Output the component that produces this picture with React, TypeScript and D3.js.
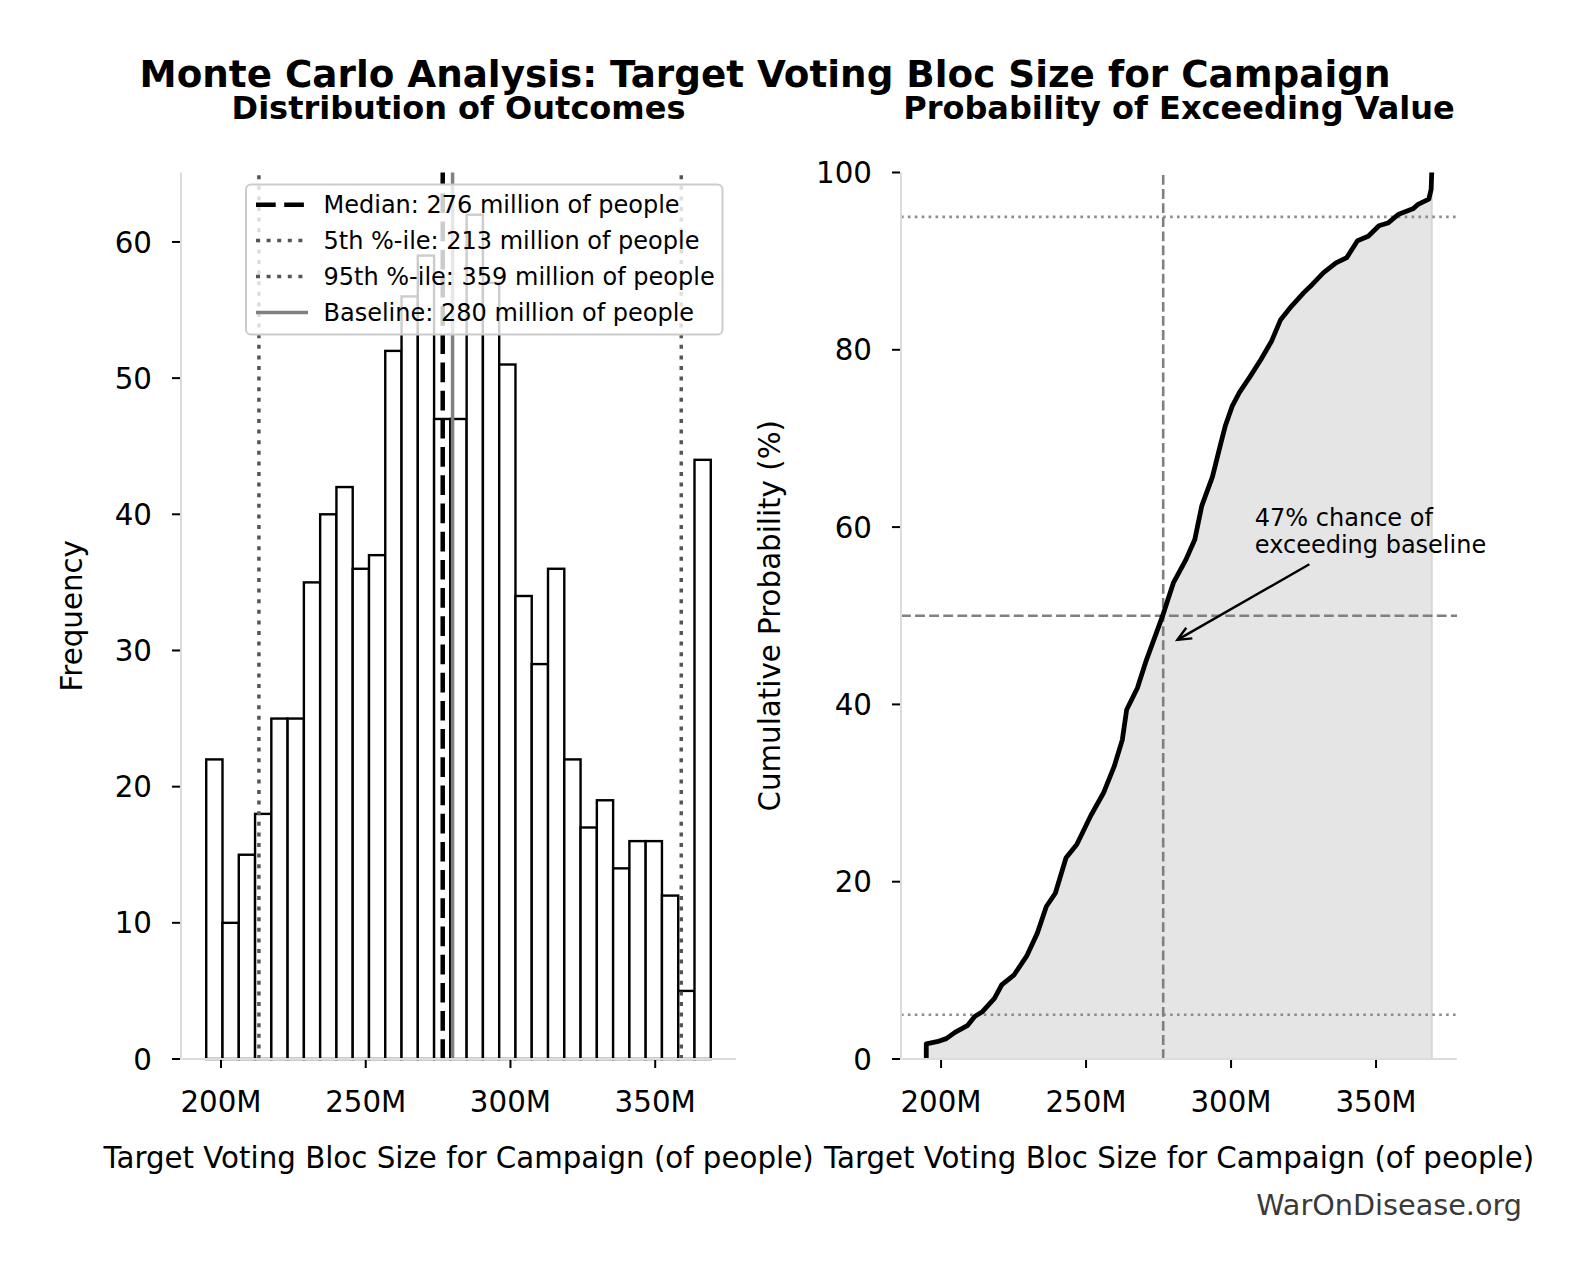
import * as d3 from 'd3';

// histogram counts per bin (1000 simulated outcomes, millions of people)
const binCounts = [
	22, 10, 15, 18, 25, 25, 35, 40, 42, 36, 37, 52, 56, 59, 47, 47, 62, 57, 51, 34,
	29, 36, 22, 17, 19, 14, 16, 16, 12, 5, 44,
];
const sampleMin = 194.9;
const sampleMax = 369.2;

const medianValue = 276.6;
const p5Value = 213.1;
const p95Value = 359.0;
const baselineValue = 280;

// sorted outcomes (M) vs cumulative probability (%)
const cdfValues = [
	194.9, 194.9, 198.6, 201.8, 204.8, 209.2, 211.6, 214.1, 218.4, 220.9, 225.2,
	229.5, 233.2, 236.3, 239.4, 243.1, 246.8, 251.7, 256.0, 259.7, 262.5, 264.0,
	267.7, 270.8, 276.3, 280.1, 284.4, 287.5, 289.9, 293.6, 296.5, 298.0, 300.4,
	302.9, 306.6, 310.3, 314.0, 317.1, 320.8, 325.1, 328.1, 331.9, 336.2, 339.9,
	343.6, 347.3, 351.0, 354.1, 357.8, 362.7, 364.5, 368.2, 369.0, 369.2,
];
const cdfPercent = [
	0, 1.7, 1.95, 2.3, 3.0, 3.8, 4.8, 5.3, 6.85, 8.35, 9.5, 11.6, 14.2, 17.2, 18.7,
	22.7, 24.2, 27.5, 30.0, 33.0, 36.0, 39.4, 41.85, 45.0, 49.9, 53.7, 56.3, 58.6,
	62.4, 65.7, 69.5, 71.4, 73.65, 75.2, 77.0, 78.9, 81.0, 83.4, 84.9, 86.45, 87.4,
	88.7, 89.8, 90.4, 92.3, 92.8, 94.0, 94.3, 95.3, 95.9, 96.4, 97.0, 98.1, 100,
];

const xTicks = [200, 250, 300, 350];
const histYTicks = [0, 10, 20, 30, 40, 50, 60];
const cdfYTicks = [0, 20, 40, 60, 80, 100];

const legendLabels = [
	'Median: 276 million of people',
	'5th %-ile: 213 million of people',
	'95th %-ile: 359 million of people',
	'Baseline: 280 million of people',
];

const annotLines = ['47% chance of', 'exceeding baseline'];
const annotTarget: [number, number] = [280, 47];
const annotTextPos: [number, number] = [308.2, 57.1];
const annotTail: [number, number] = [327, 55.8];

const svgWidth = 1580,
	svgHeight = 1280;
const font = 'DejaVu Sans, sans-serif';
const spineColor = '#dcdcdc';

const pad = (sampleMax - sampleMin) * 0.05;
const xDomain: [number, number] = [sampleMin - pad, sampleMax + pad];
const histMax = d3.max(binCounts)! * 1.05;

const top = 172.5,
	bottom = 1059;

export default function App() {
	const xLeft = d3.scaleLinear().domain(xDomain).range([181, 736]);
	const xRight = d3.scaleLinear().domain(xDomain).range([901, 1457]);
	const yHist = d3.scaleLinear().domain([0, histMax]).range([bottom, top]);
	const yCdf = d3.scaleLinear().domain([0, 100]).range([bottom, top]);

	const binWidth = (sampleMax - sampleMin) / binCounts.length;
	const bins = binCounts.map((c, i) => ({
		x0: sampleMin + i * binWidth,
		x1: sampleMin + (i + 1) * binWidth,
		count: c,
	}));

	const cdfData = cdfValues.map((v, i) => [v, cdfPercent[i]] as [number, number]);
	const lineGen = d3
		.line<[number, number]>()
		.x((d) => xRight(d[0]))
		.y((d) => yCdf(d[1]));
	const areaGen = d3
		.area<[number, number]>()
		.x((d) => xRight(d[0]))
		.y0(yCdf(0))
		.y1((d) => yCdf(d[1]));

	// arrow geometry
	const tx = xRight(annotTarget[0]),
		ty = yCdf(annotTarget[1]);
	const sx = xRight(annotTail[0]),
		sy = yCdf(annotTail[1]);
	const ang = Math.atan2(ty - sy, tx - sx);
	const tipX = tx - Math.cos(ang) * 5,
		tipY = ty - Math.sin(ang) * 5;
	const headLen = 15,
		headAng = 0.42;
	const headPath = `M${tipX - headLen * Math.cos(ang - headAng)},${tipY - headLen * Math.sin(ang - headAng)} L${tipX},${tipY} L${tipX - headLen * Math.cos(ang + headAng)},${tipY - headLen * Math.sin(ang + headAng)}`;

	const legendX = 246,
		legendY = 184.4,
		rowGap = 35.9;

	return (
		<svg
			width={svgWidth}
			height={svgHeight}
			viewBox={`0 0 ${svgWidth} ${svgHeight}`}
			style={{ position: 'absolute', left: 0, top: 0, background: 'white' }}
			fontFamily={font}
		>
			<rect width={svgWidth} height={svgHeight} fill="white" />
			{/* titles */}
			<text x={765} y={86.5} textAnchor="middle" fontSize={37.3} fontWeight="bold">
				Monte Carlo Analysis: Target Voting Bloc Size for Campaign
			</text>
			<text x={458.5} y={119} textAnchor="middle" fontSize={32} fontWeight="bold">
				Distribution of Outcomes
			</text>
			<text x={1179} y={119} textAnchor="middle" fontSize={32} fontWeight="bold">
				Probability of Exceeding Value
			</text>

			{/* left panel: histogram */}
			<g>
				{bins.map((b, i) => (
					<rect
						key={i}
						x={xLeft(b.x0)}
						y={yHist(b.count)}
						width={xLeft(b.x1) - xLeft(b.x0)}
						height={yHist(0) - yHist(b.count)}
						fill="white"
						stroke="black"
						strokeWidth={2.4}
					/>
				))}
				<line
					x1={xLeft(p5Value)}
					x2={xLeft(p5Value)}
					y1={bottom}
					y2={top}
					stroke="#555"
					strokeWidth={3.5}
					strokeDasharray="4 6.6"
				/>
				<line
					x1={xLeft(p95Value)}
					x2={xLeft(p95Value)}
					y1={bottom}
					y2={top}
					stroke="#555"
					strokeWidth={3.5}
					strokeDasharray="4 6.6"
				/>
				<line
					x1={xLeft(medianValue)}
					x2={xLeft(medianValue)}
					y1={bottom}
					y2={top}
					stroke="black"
					strokeWidth={4.5}
					strokeDasharray="19.7 8.5"
				/>
				<line
					x1={xLeft(baselineValue)}
					x2={xLeft(baselineValue)}
					y1={bottom}
					y2={top}
					stroke="#808080"
					strokeWidth={3.5}
				/>
				{/* spines */}
				<line x1={181} x2={181} y1={top} y2={bottom} stroke={spineColor} strokeWidth={2} />
				<line x1={181} x2={736} y1={bottom} y2={bottom} stroke={spineColor} strokeWidth={2} />
				{histYTicks.map((t) => (
					<g key={t} transform={`translate(0, ${yHist(t)})`}>
						<line x1={172} x2={180} stroke="black" strokeWidth={2} />
						<text x={152} dy="0.36em" textAnchor="end" fontSize={29.3}>
							{t}
						</text>
					</g>
				))}
				{xTicks.map((t) => (
					<g key={t} transform={`translate(${xLeft(t)}, 0)`}>
						<line y1={bottom + 1} y2={bottom + 9} stroke="black" strokeWidth={2} />
						<text y={1112} textAnchor="middle" fontSize={29.3}>
							{t}M
						</text>
					</g>
				))}
				<text x={458.5} y={1168} textAnchor="middle" fontSize={29.3}>
					Target Voting Bloc Size for Campaign (of people)
				</text>
				<text
					transform={`translate(82, 615.75) rotate(-90)`}
					textAnchor="middle"
					fontSize={29.3}
				>
					Frequency
				</text>

				{/* legend */}
				<rect
					x={legendX}
					y={legendY}
					width={476.5}
					height={150}
					rx={5}
					fill="white"
					fillOpacity={0.8}
					stroke="#cccccc"
					strokeWidth={2}
				/>
				{legendLabels.map((label, i) => {
					const cy = legendY + 20.3 + i * rowGap;
					return (
						<g key={label}>
							{i === 0 && (
								<line
									x1={256}
									x2={308}
									y1={cy}
									y2={cy}
									stroke="black"
									strokeWidth={4.5}
									strokeDasharray="19.7 8.5"
								/>
							)}
							{(i === 1 || i === 2) && (
								<line
									x1={256}
									x2={308}
									y1={cy}
									y2={cy}
									stroke="#555"
									strokeWidth={3.5}
									strokeDasharray="4 6.6"
								/>
							)}
							{i === 3 && (
								<line x1={256} x2={308} y1={cy} y2={cy} stroke="#808080" strokeWidth={3.5} />
							)}
							<text x={323.5} y={cy + 8.5} fontSize={24}>
								{label}
							</text>
						</g>
					);
				})}
			</g>

			{/* right panel: cumulative */}
			<g>
				<path d={areaGen(cdfData)!} fill="#e5e5e5" stroke="#d6d6d6" strokeWidth={2} />
				<line
					x1={901}
					x2={1457}
					y1={yCdf(5)}
					y2={yCdf(5)}
					stroke="#8c8c8c"
					strokeWidth={2.6}
					strokeDasharray="2.6 4.3"
				/>
				<line
					x1={901}
					x2={1457}
					y1={yCdf(95)}
					y2={yCdf(95)}
					stroke="#8c8c8c"
					strokeWidth={2.6}
					strokeDasharray="2.6 4.3"
				/>
				<line
					x1={901}
					x2={1457}
					y1={yCdf(50)}
					y2={yCdf(50)}
					stroke="#808080"
					strokeWidth={2.6}
					strokeDasharray="9.8 4.3"
				/>
				<line
					x1={xRight(medianValue)}
					x2={xRight(medianValue)}
					y1={bottom}
					y2={top}
					stroke="#808080"
					strokeWidth={2.6}
					strokeDasharray="9.8 4.3"
				/>
				<path
					d={lineGen(cdfData)!}
					fill="none"
					stroke="black"
					strokeWidth={4.8}
					strokeLinejoin="round"
				/>
				{/* spines */}
				<line x1={901} x2={901} y1={top} y2={bottom} stroke={spineColor} strokeWidth={2} />
				<line x1={901} x2={1457} y1={bottom} y2={bottom} stroke={spineColor} strokeWidth={2} />
				{cdfYTicks.map((t) => (
					<g key={t} transform={`translate(0, ${yCdf(t)})`}>
						<line x1={892} x2={900} stroke="black" strokeWidth={2} />
						<text x={872} dy="0.36em" textAnchor="end" fontSize={29.3}>
							{t}
						</text>
					</g>
				))}
				{xTicks.map((t) => (
					<g key={t} transform={`translate(${xRight(t)}, 0)`}>
						<line y1={bottom + 1} y2={bottom + 9} stroke="black" strokeWidth={2} />
						<text y={1112} textAnchor="middle" fontSize={29.3}>
							{t}M
						</text>
					</g>
				))}
				<text x={1179} y={1168} textAnchor="middle" fontSize={29.3}>
					Target Voting Bloc Size for Campaign (of people)
				</text>
				<text
					transform={`translate(780, 615.75) rotate(-90)`}
					textAnchor="middle"
					fontSize={29.3}
				>
					Cumulative Probability (%)
				</text>

				{/* annotation */}
				<line x1={sx} y1={sy} x2={tipX} y2={tipY} stroke="black" strokeWidth={2.4} />
				<path d={headPath} fill="none" stroke="black" strokeWidth={2.4} />
				{annotLines.map((l, i) => (
					<text
						key={l}
						x={xRight(annotTextPos[0])}
						y={yCdf(annotTextPos[1]) - (annotLines.length - 1 - i) * 27}
						fontSize={24}
					>
						{l}
					</text>
				))}
			</g>

			<text x={1522} y={1215} textAnchor="end" fontSize={28.7} fill="#3a3a3a">
				WarOnDisease.org
			</text>
		</svg>
	);
}
